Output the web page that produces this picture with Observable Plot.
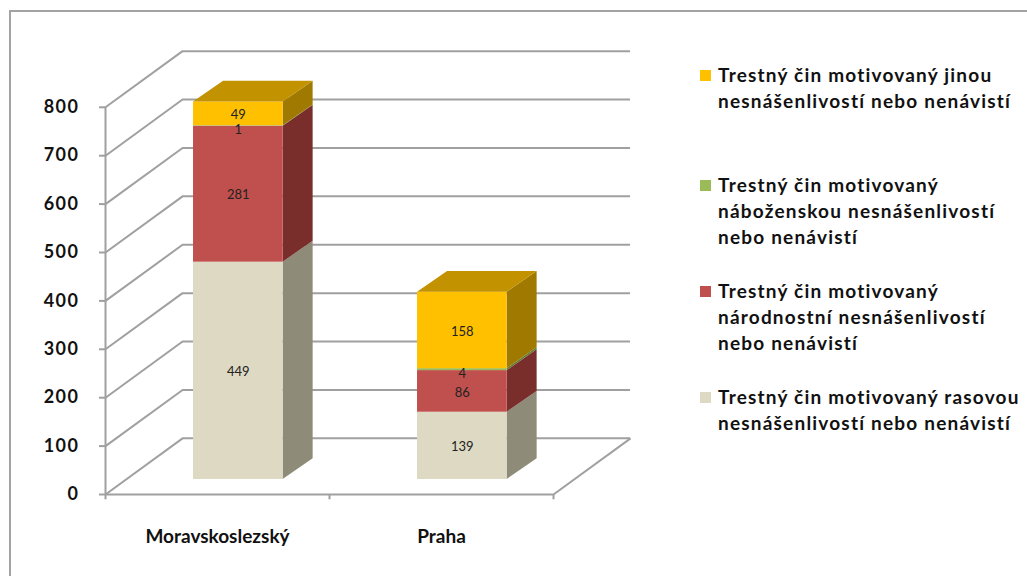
<!DOCTYPE html>
<html>
<head>
<meta charset="utf-8">
<script src="https://cdn.jsdelivr.net/npm/d3@7"></script>
<script src="https://cdn.jsdelivr.net/npm/@observablehq/plot@0.6"></script>
<style>
  html, body { margin: 0; padding: 0; background: #fff; }
  #wrap { position: relative; width: 1027px; height: 576px; overflow: hidden; font-family: Lato, "Open Sans", sans-serif; }
  #frame { position: absolute; left: 9px; top: 10px; width: 1100px; height: 700px; border-top: 2px solid #a3a3a3; border-left: 2px solid #a3a3a3; }
  #chart { position: absolute; left: 0; top: 0; }
  #legend { position: absolute; left: 700px; top: 0; }
  .item { position: absolute; left: 0; white-space: nowrap; }
  .sw { position: absolute; left: 0; width: 11px; height: 11px; }
  .txt { position: absolute; left: 18px; font-weight: bold; font-size: 19px; line-height: 26px; letter-spacing: 1.2px; color: #111; }
  svg g[aria-label="y-axis tick label"] text { letter-spacing: 1.5px; }
  svg g[aria-label="category"] text { letter-spacing: 2.2px; }
</style>
</head>
<body>
<div id="wrap">
  <div id="frame"></div>
  <div id="chart"></div>
  <div id="legend"></div>
</div>
<script>
// ---- data ----
const categories = ["Moravskoslezský", "Praha"];
const seriesNames = [
  "Trestný čin motivovaný rasovou nesnášenlivostí nebo nenávistí",
  "Trestný čin motivovaný národnostní nesnášenlivostí nebo nenávistí",
  "Trestný čin motivovaný náboženskou nesnášenlivostí nebo nenávistí",
  "Trestný čin motivovaný jinou nesnášenlivostí nebo nenávistí"
];
const rasova = [449, 139];
const narodnostni = [281, 86];
const nabozenska = [1, 4];
const jina = [49, 158];
const yTicks = [0, 100, 200, 300, 400, 500, 600, 700, 800];
const frontColors = ["#DDD9C3", "#C0504D", "#9BBB59", "#FFC000"];
const sideColors = ["#8E8B78", "#7A2E2C", "#617A35", "#A07A00"];
const topColors = ["#B0AC98", "#9A3D3A", "#7C9A45", "#C39200"];
const legendLines = [
  ["Trestný čin motivovaný jinou", "nesnášenlivostí nebo nenávistí"],
  ["Trestný čin motivovaný", "náboženskou nesnášenlivostí", "nebo nenávistí"],
  ["Trestný čin motivovaný", "národnostní nesnášenlivostí", "nebo nenávistí"],
  ["Trestný čin motivovaný rasovou", "nesnášenlivostí nebo nenávistí"]
];

// ---- 3D projection parameters (in data units) ----
const series = [rasova, narodnostni, nabozenska, jina];
const depthX = 0.344, depthY = 116;     // wall depth
const frontX = 0.093, frontY = 31;      // bar front plane offset
const barDX = 0.134, barDY = 43;        // bar depth
const halfW = 0.2;

const fronts = [], sides = [], tops = [], labels = [];
categories.forEach((cat, i) => {
  let base = 0;
  const c = i + 0.5 + frontX;
  series.forEach((vals, s) => {
    const v = vals[i];
    const b = base, t = base + v;
    const id = cat + "-" + s;
    fronts.push({x1: c - halfW, x2: c + halfW, y1: b + frontY, y2: t + frontY, fill: frontColors[s]});
    sides.push({id, x: c + halfW, y1: b + frontY, y2: t + frontY, fill: sideColors[s]});
    sides.push({id, x: c + halfW + barDX, y1: b + frontY + barDY, y2: t + frontY + barDY, fill: sideColors[s]});
    labels.push({x: c, y: (b + t) / 2 + frontY, text: String(v), small: v < 10});
    base = t;
  });
  const topS = series.length - 1;
  tops.push({id: cat, y: base + frontY, x1: c - halfW, x2: c + halfW, fill: topColors[topS]});
  tops.push({id: cat, y: base + frontY + barDY, x1: c - halfW + barDX, x2: c + halfW + barDX, fill: topColors[topS]});
});

const grid = "#a0a0a0";
const chart = Plot.plot({
  width: 665, height: 576,
  marginLeft: 105, marginRight: 0, marginTop: 10, marginBottom: 82,
  x: {domain: [0, 2.5], axis: null},
  y: {domain: [0, 1000], axis: null},
  color: {type: "identity"},
  style: {fontFamily: "Lato, 'Open Sans', sans-serif", background: "transparent"},
  marks: [
    // back wall gridlines
    Plot.ruleY(yTicks, {y: d => d + depthY, x1: depthX, x2: 2 + depthX, stroke: grid, strokeWidth: 2}),
    // side wall slanted lines
    Plot.link(yTicks, {x1: 0, y1: d => d, x2: depthX, y2: d => d + depthY, stroke: grid, strokeWidth: 2}),
    // floor
    Plot.ruleY([0], {x1: 0, x2: 2, stroke: grid, strokeWidth: 2}),
    Plot.link([0], {x1: 2, y1: 0, x2: 2 + depthX, y2: depthY, stroke: grid, strokeWidth: 2}),
    Plot.ruleX([0, 1, 2], {x: d => d, y1: 0, y2: -11, stroke: grid, strokeWidth: 2}),
    // front axis
    Plot.ruleX([0], {y1: 0, y2: 800, stroke: grid, strokeWidth: 2}),
    Plot.axisY(yTicks, {tickSize: 6, tickPadding: 20, fontSize: 18, fontWeight: "bold", stroke: grid, strokeWidth: 2, fill: "#111", tickFormat: d => String(d)}),
    // bars
    Plot.areaY(sides, {x: "x", y1: "y1", y2: "y2", z: "id", fill: "fill"}),
    Plot.rect(fronts, {x1: "x1", x2: "x2", y1: "y1", y2: "y2", fill: "fill"}),
    Plot.areaX(tops, {y: "y", x1: "x1", x2: "x2", z: "id", fill: "fill"}),
    Plot.text(labels.filter(d => !d.small), {x: "x", y: "y", text: "text", dy: 1, fontSize: 13, fill: "#222"}),
    Plot.text(labels.filter(d => d.small), {x: "x", y: "y", text: "text", dy: 4, fontSize: 13, fill: "#222"}),
    // category labels
    Plot.text(categories, {x: (d, i) => i + 0.5, y: 0, dy: 42, text: d => d, fontSize: 19, fontWeight: "bold", fill: "#111", ariaLabel: "category"})
  ]
});
document.getElementById("chart").appendChild(chart);

// legend
const legendTop = [62, 172, 278, 384];
const legendColors = [frontColors[3], frontColors[2], frontColors[1], frontColors[0]];
const legend = document.getElementById("legend");
legendLines.forEach((lines, k) => {
  const item = document.createElement("div");
  item.className = "item";
  item.style.top = legendTop[k] + "px";
  const sw = document.createElement("div");
  sw.className = "sw";
  sw.style.top = "8px";
  sw.style.background = legendColors[k];
  const tx = document.createElement("div");
  tx.className = "txt";
  tx.innerHTML = lines.join("<br>");
  item.appendChild(sw);
  item.appendChild(tx);
  legend.appendChild(item);
});
</script>
</body>
</html>
